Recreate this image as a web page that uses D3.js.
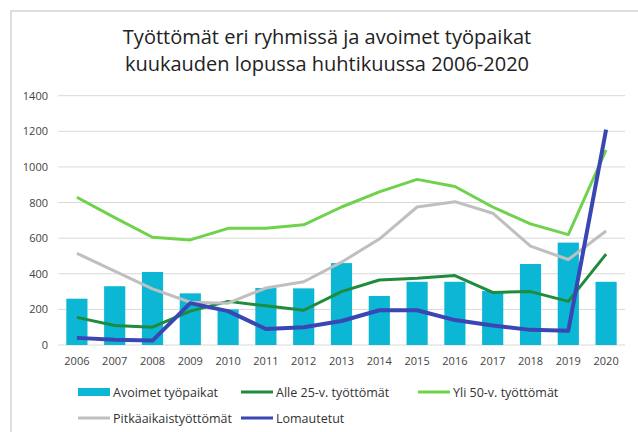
<!DOCTYPE html>
<html>
<head>
<meta charset="utf-8">
<script src="https://cdn.jsdelivr.net/npm/d3@7"></script>
<style>
  body { margin: 0; background: #fff; }
  svg { font-family: "Open Sans", sans-serif; }
</style>
</head>
<body>
<div class="chart"></div>
<script>
var width = 638, height = 432;

// data
var years = ["2006","2007","2008","2009","2010","2011","2012","2013","2014","2015","2016","2017","2018","2019","2020"];
var avoimet = [260, 330, 410, 290, 200, 320, 318, 460, 275, 355, 355, 303, 455, 575, 355];
var alle25 = [155, 110, 100, 190, 245, 220, 195, 300, 365, 375, 390, 295, 300, 245, 510];
var yli50 = [830, 715, 605, 590, 655, 655, 675, 775, 860, 930, 890, 775, 680, 620, 1095];
var pitka = [515, 415, 315, 240, 235, 320, 355, 465, 595, 775, 805, 740, 555, 480, 640];
var lomautetut = [40, 30, 25, 235, 190, 90, 100, 135, 195, 195, 140, 110, 85, 80, 1210];
var yTicks = [0, 200, 400, 600, 800, 1000, 1200, 1400];

var lineSeries = [
  {name: "Alle 25-v. työttömät", values: alle25, color: "#1e8c3c", w: 3},
  {name: "Yli 50-v. työttömät", values: yli50, color: "#6fd24c", w: 3},
  {name: "Pitkäaikaistyöttömät", values: pitka, color: "#bfbfbf", w: 3},
  {name: "Lomautetut", values: lomautetut, color: "#3a46b4", w: 4}
];
var barColor = "#0bb7d5";

var svg = d3.select(".chart").append("svg")
  .attr("width", width)
  .attr("height", height);

// frame
svg.append("path")
  .attr("d", "M11," + height + "V11H" + width)
  .attr("fill", "none")
  .attr("stroke", "#dedede")
  .attr("stroke-width", 2);

// title
var title = svg.append("text")
  .attr("text-anchor", "middle")
  .attr("font-size", 20)
  .attr("fill", "#222");
title.append("tspan").attr("x", 327).attr("y", 44).text("Työttömät eri ryhmissä ja avoimet työpaikat");
title.append("tspan").attr("x", 327).attr("y", 71).text("kuukauden lopussa huhtikuussa 2006-2020");

var plot = {left: 58, right: 625, top: 95.7, bottom: 345};

var x = d3.scaleBand().domain(years).range([plot.left, plot.right]).paddingInner(0.44).paddingOuter(0.22);
var y = d3.scaleLinear().domain([0, 1400]).range([plot.bottom, plot.top]);

// gridlines
svg.append("g").selectAll("line")
  .data(yTicks)
  .enter().append("line")
    .attr("x1", plot.left).attr("x2", plot.right)
    .attr("y1", function(d) { return y(d); })
    .attr("y2", function(d) { return y(d); })
    .attr("stroke", "#d9d9d9")
    .attr("stroke-width", 1);

// y axis labels
var yAxis = svg.append("g")
  .attr("transform", "translate(" + (plot.left - 10) + ",0)")
  .call(d3.axisLeft(y).tickValues(yTicks).tickFormat(d3.format("d")).tickSize(0).tickPadding(0));
yAxis.select(".domain").remove();
yAxis.selectAll("text").attr("font-size", 11).attr("fill", "#444").attr("font-family", "Open Sans, sans-serif");

// x axis labels
var xAxis = svg.append("g")
  .attr("transform", "translate(0," + (plot.bottom + 12) + ")")
  .call(d3.axisBottom(x).tickSize(0).tickPadding(0));
xAxis.select(".domain").remove();
xAxis.selectAll("text").attr("font-size", 11).attr("fill", "#444").attr("font-family", "Open Sans, sans-serif");

// bars
svg.append("g").selectAll("rect")
  .data(avoimet)
  .enter().append("rect")
    .attr("x", function(d, i) { return x(years[i]); })
    .attr("width", x.bandwidth())
    .attr("y", function(d) { return y(d); })
    .attr("height", function(d) { return y(0) - y(d); })
    .attr("fill", barColor);

// lines
var line = d3.line()
  .x(function(d, i) { return x(years[i]) + x.bandwidth() / 2; })
  .y(function(d) { return y(d); });

svg.append("g").selectAll("path")
  .data(lineSeries)
  .enter().append("path")
    .attr("d", function(s) { return line(s.values); })
    .attr("fill", "none")
    .attr("stroke", function(s) { return s.color; })
    .attr("stroke-width", function(s) { return s.w; })
    .attr("stroke-linejoin", "round");

// legend
var legendItems = [
  {name: "Avoimet työpaikat", color: barColor, bar: true, x: 78, y: 392},
  {name: lineSeries[0].name, color: lineSeries[0].color, x: 241, y: 392},
  {name: lineSeries[1].name, color: lineSeries[1].color, x: 418, y: 392},
  {name: lineSeries[2].name, color: lineSeries[2].color, x: 78, y: 418},
  {name: lineSeries[3].name, color: lineSeries[3].color, x: 241, y: 418}
];
var legend = svg.append("g").selectAll("g")
  .data(legendItems)
  .enter().append("g")
    .attr("transform", function(d) { return "translate(" + d.x + "," + d.y + ")"; });
legend.append("rect")
  .attr("x", 0)
  .attr("y", function(d) { return d.bar ? -4 : -1.5; })
  .attr("width", 32)
  .attr("height", function(d) { return d.bar ? 8 : 3; })
  .attr("fill", function(d) { return d.color; });
legend.append("text")
  .attr("x", 35)
  .attr("y", 4.5)
  .attr("font-size", 12.5)
  .attr("fill", "#333")
  .text(function(d) { return d.name; });
</script>
</body>
</html>
